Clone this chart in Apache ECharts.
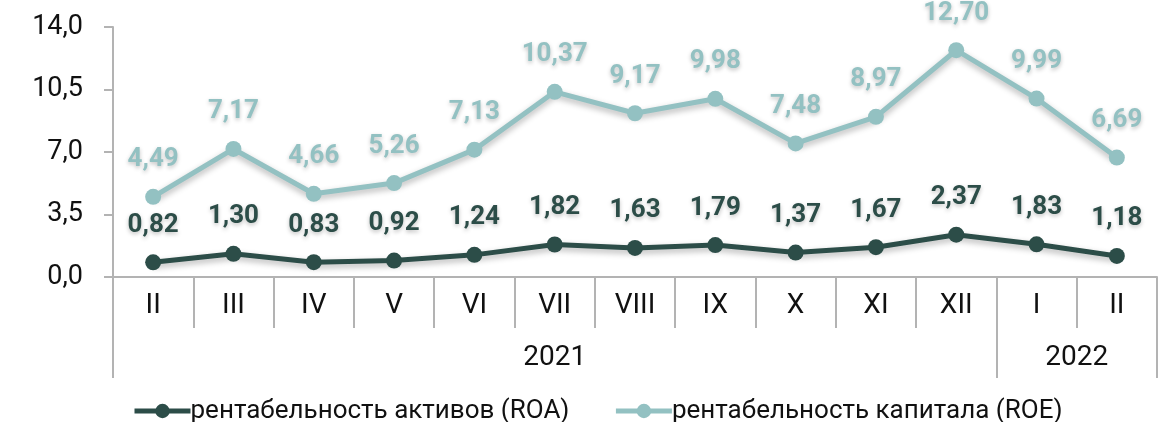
<!DOCTYPE html>
<html>
<head>
<meta charset="utf-8">
<script src="https://cdn.jsdelivr.net/npm/echarts@6/dist/echarts.min.js"></script>
<style>
  html, body { margin: 0; padding: 0; background: #fff; }
  #main { width: 1168px; height: 422px; }
</style>
</head>
<body>
<div id="main"></div>
<script>
var months = ['II', 'III', 'IV', 'V', 'VI', 'VII', 'VIII', 'IX', 'X', 'XI', 'XII', 'I', 'II'];
var years = ['2021', '2022'];
var yearSpans = [11, 2];
var roa = [0.82, 1.30, 0.83, 0.92, 1.24, 1.82, 1.63, 1.79, 1.37, 1.67, 2.37, 1.83, 1.18];
var roe = [4.49, 7.17, 4.66, 5.26, 7.13, 10.37, 9.17, 9.98, 7.48, 8.97, 12.70, 9.99, 6.69];
var yTicks = [0, 3.5, 7, 10.5, 14];

var FONT = 'Roboto, "Noto Sans", sans-serif';
var DARK = '#2c4d48';
var LIGHT = '#93c1c2';
var AXIS = '#b3b3b3';

// year groups: boundaries and centres
var yearBounds = [0];
var yearMids = [];
yearSpans.forEach(function (s) {
  var start = yearBounds[yearBounds.length - 1];
  yearMids.push(start + s / 2);
  yearBounds.push(start + s);
});

function comma(v, d) {
  return v.toFixed(d).replace('.', ',');
}

function lineSeries(name, data, color) {
  return {
    name: name,
    type: 'line',
    data: data,
    symbol: 'circle',
    symbolSize: 16,
    z: name.indexOf('ROA') >= 0 ? 3 : 2,
    itemStyle: { color: color },
    lineStyle: {
      color: color, width: 5,
      shadowColor: 'rgba(0,0,0,0.3)', shadowBlur: 6, shadowOffsetY: 3
    },
    label: {
      show: true,
      position: 'top',
      distance: 16,
      color: color,
      fontFamily: FONT,
      fontWeight: 'bold',
      fontSize: 26,
      textShadowColor: 'rgba(0,0,0,0.25)',
      textShadowBlur: 4,
      textShadowOffsetY: 2,
      formatter: function (p) { return comma(p.value, 2); }
    }
  };
}

var chart = echarts.init(document.getElementById('main'));
chart.setOption({
  animation: false,
  grid: { left: 113, right: 11, top: 27, bottom: 145 },
  legend: {
    left: 127,
    top: 393,
    itemWidth: 56,
    itemHeight: 18,
    itemGap: 44,
    lineStyle: { width: 5 },
    textStyle: { fontFamily: FONT, fontSize: 26, color: '#111', padding: [0, 0, 0, -5] },
    data: ['рентабельность активов (ROA)', 'рентабельность капитала (ROE)']
  },
  xAxis: [{
    type: 'category',
    data: months,
    axisLine: { lineStyle: { color: AXIS, width: 2 } },
    axisTick: { show: true, interval: 0, length: 51, lineStyle: { color: AXIS, width: 2 } },
    axisLabel: { interval: 0, margin: 15, color: '#111', fontFamily: FONT, fontSize: 28 }
  }, {
    type: 'value',
    min: 0,
    max: months.length,
    position: 'bottom',
    axisLine: { show: false },
    splitLine: { show: false },
    axisTick: {
      show: true, length: 101, customValues: yearBounds,
      lineStyle: { color: AXIS, width: 2 }
    },
    axisLabel: {
      customValues: yearMids,
      margin: 67,
      color: '#111',
      fontFamily: FONT,
      fontSize: 28,
      formatter: function (v) { return years[yearMids.indexOf(v)]; }
    }
  }],
  yAxis: {
    type: 'value',
    min: 0,
    max: 14,
    interval: 3.5,
    splitLine: { show: false },
    axisLine: { show: true, lineStyle: { color: AXIS, width: 2 } },
    axisTick: { show: true, length: 9, lineStyle: { color: AXIS, width: 2 } },
    axisLabel: {
      margin: 30,
      color: '#111',
      fontFamily: FONT,
      fontSize: 27,
      customValues: yTicks,
      formatter: function (v) { return comma(v, 1); }
    }
  },
  series: [
    lineSeries('рентабельность активов (ROA)', roa, DARK),
    lineSeries('рентабельность капитала (ROE)', roe, LIGHT)
  ]
});
</script>
</body>
</html>
